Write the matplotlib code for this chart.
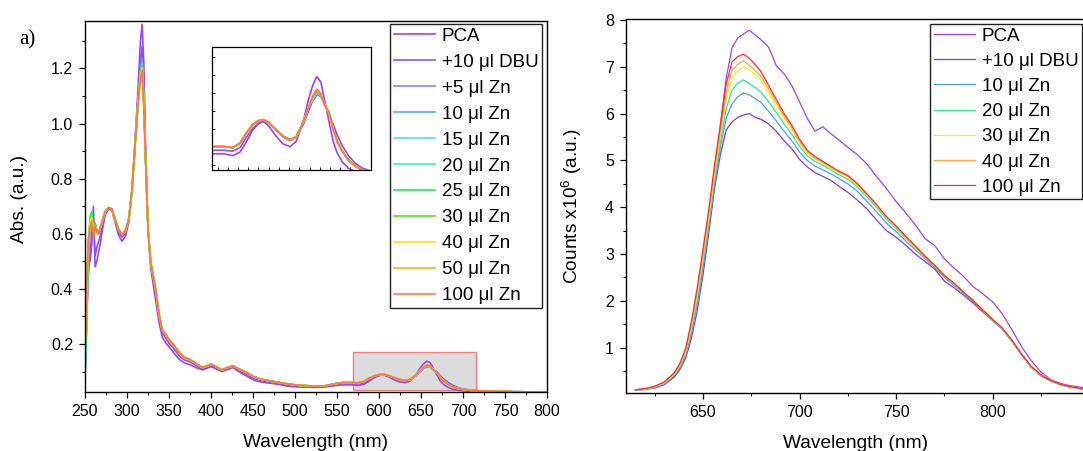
import matplotlib.pyplot as plt
import numpy as np
from matplotlib.patches import Rectangle
from matplotlib.ticker import MultipleLocator

plt.rcParams['font.family'] = ['Liberation Sans', 'DejaVu Sans']
plt.rcParams['mathtext.fontset'] = 'custom'
plt.rcParams['mathtext.rm'] = 'Liberation Sans'

# ---------------- absorption (left) ----------------
abs_wl = [250, 252, 254, 256, 258, 260, 262, 264, 266, 268,
          270, 274, 278, 282, 286, 290, 294, 298, 302, 306,
          310, 313, 316, 318, 320, 322, 325, 328, 331, 334,
          338, 342, 346, 350, 356, 362, 368, 376, 384, 390,
          395, 400, 406, 413, 420, 426, 433, 440, 446, 452,
          460, 470, 480, 492, 505, 520, 535, 548, 556, 566,
          575, 582, 588, 594, 600, 605, 610, 617, 624, 631,
          637, 644, 649, 653, 657, 661, 665, 669, 673, 677,
          682, 688, 695, 702, 712, 730, 760, 800]

abs_pca = [0.12, 0.32, 0.45, 0.52, 0.60, 0.66, 0.52, 0.55, 0.57, 0.59,
           0.62, 0.67, 0.69, 0.685, 0.64, 0.595, 0.573, 0.59, 0.64, 0.76,
           0.96, 1.12, 1.30, 1.36, 1.22, 0.93, 0.62, 0.48, 0.42, 0.36,
           0.28, 0.225, 0.205, 0.19, 0.167, 0.145, 0.132, 0.124, 0.112, 0.106,
           0.112, 0.118, 0.11, 0.10, 0.108, 0.115, 0.10, 0.088, 0.078, 0.068,
           0.062, 0.058, 0.054, 0.047, 0.044, 0.043, 0.044, 0.049, 0.052, 0.052,
           0.050, 0.054, 0.065, 0.078, 0.086, 0.088, 0.083, 0.072, 0.063, 0.060,
           0.066, 0.089, 0.113, 0.128, 0.138, 0.132, 0.110, 0.088, 0.066, 0.053,
           0.043, 0.036, 0.032, 0.030, 0.028, 0.027, 0.026, 0.025]

abs_dbu = [0.10, 0.28, 0.52, 0.50, 0.56, 0.70, 0.48, 0.50, 0.53, 0.56,
           0.60, 0.67, 0.69, 0.688, 0.645, 0.605, 0.588, 0.60, 0.65, 0.76,
           0.95, 1.09, 1.23, 1.28, 1.14, 0.90, 0.62, 0.50, 0.44, 0.39,
           0.30, 0.24, 0.222, 0.203, 0.182, 0.158, 0.143, 0.134, 0.119, 0.11,
           0.116, 0.122, 0.114, 0.103, 0.111, 0.118, 0.105, 0.094, 0.084, 0.074,
           0.067, 0.062, 0.057, 0.051, 0.047, 0.045, 0.045, 0.052, 0.056, 0.056,
           0.055, 0.059, 0.070, 0.080, 0.086, 0.088, 0.086, 0.079, 0.072, 0.068,
           0.071, 0.085, 0.100, 0.111, 0.118, 0.116, 0.107, 0.097, 0.085, 0.073,
           0.061, 0.050, 0.041, 0.036, 0.032, 0.029, 0.027, 0.026]

# common trace of the Zn additions
abs_zn = [0.16, 0.35, 0.55, 0.62, 0.64, 0.60, 0.63, 0.61, 0.60, 0.62,
          0.64, 0.68, 0.695, 0.69, 0.65, 0.615, 0.598, 0.61, 0.65, 0.76,
          0.94, 1.07, 1.17, 1.20, 1.08, 0.88, 0.62, 0.50, 0.45, 0.40,
          0.31, 0.25, 0.235, 0.215, 0.195, 0.17, 0.152, 0.142, 0.125, 0.115,
          0.12, 0.127, 0.118, 0.106, 0.115, 0.121, 0.11, 0.10, 0.09, 0.08,
          0.072, 0.066, 0.061, 0.055, 0.05, 0.048, 0.048, 0.056, 0.060, 0.060,
          0.059, 0.064, 0.075, 0.084, 0.089, 0.090, 0.087, 0.079, 0.071, 0.067,
          0.071, 0.088, 0.104, 0.116, 0.122, 0.118, 0.106, 0.098, 0.080, 0.066,
          0.055, 0.045, 0.038, 0.034, 0.031, 0.029, 0.027, 0.026]

# where the individual Zn traces separate
zn_var_wl = [250, 252, 254, 256, 258, 260, 262, 316, 318, 320, 653, 657, 661]
zn_labels = ['+5 μl Zn', '10 μl Zn', '15 μl Zn', '20 μl Zn', '25 μl Zn',
             '30 μl Zn', '40 μl Zn', '50 μl Zn', '100 μl Zn']
zn_var = [
    [0.07, 0.25, 0.50, 0.60, 0.63, 0.61, 0.62, 1.19, 1.235, 1.10, 0.111, 0.119, 0.116],
    [0.08, 0.27, 0.52, 0.62, 0.66, 0.62, 0.63, 1.19, 1.228, 1.10, 0.112, 0.120, 0.117],
    [0.10, 0.30, 0.54, 0.64, 0.67, 0.62, 0.63, 1.185, 1.22, 1.09, 0.113, 0.121, 0.117],
    [0.12, 0.32, 0.55, 0.65, 0.68, 0.62, 0.64, 1.18, 1.215, 1.09, 0.114, 0.121, 0.118],
    [0.14, 0.34, 0.56, 0.66, 0.68, 0.61, 0.64, 1.18, 1.21, 1.08, 0.115, 0.122, 0.118],
    [0.15, 0.36, 0.57, 0.65, 0.67, 0.61, 0.63, 1.175, 1.205, 1.08, 0.115, 0.122, 0.118],
    [0.17, 0.38, 0.57, 0.64, 0.66, 0.60, 0.63, 1.17, 1.20, 1.07, 0.116, 0.123, 0.119],
    [0.18, 0.40, 0.58, 0.63, 0.65, 0.60, 0.62, 1.165, 1.195, 1.07, 0.116, 0.123, 0.119],
    [0.20, 0.42, 0.58, 0.62, 0.64, 0.58, 0.63, 1.16, 1.19, 1.06, 0.116, 0.124, 0.119],
]
abs_colors = ['#a040ff', '#8a4dff', '#7f86ff', '#5aa8ff', '#55d8ff', '#33f0d0',
              '#22e855', '#55e622', '#f0e818', '#ffa820', '#ff7a3a']

# ---------------- emission (right) ----------------
em_wl = [615, 620, 625, 630, 635, 638, 641, 644, 647, 650,
         653, 656, 659, 662, 665, 668, 671, 674, 677, 680,
         684, 688, 692, 696, 700, 704, 708, 712, 716, 720,
         725, 730, 735, 740, 745, 750, 755, 760, 765, 770,
         775, 780, 785, 790, 795, 800, 805, 810, 815, 820,
         825, 830, 835, 840, 847]

em_pca = [0.10, 0.12, 0.16, 0.24, 0.41, 0.59, 0.86, 1.36, 2.00, 2.80,
          3.72, 4.72, 5.75, 6.75, 7.40, 7.62, 7.70, 7.78, 7.68, 7.58,
          7.42, 7.02, 6.85, 6.60, 6.25, 5.90, 5.62, 5.72, 5.58, 5.45,
          5.28, 5.12, 4.92, 4.65, 4.40, 4.12, 3.88, 3.62, 3.33, 3.18,
          2.90, 2.70, 2.52, 2.30, 2.15, 1.98, 1.72, 1.38, 1.02, 0.72,
          0.48, 0.32, 0.24, 0.19, 0.15]
em_dbu = [0.09, 0.11, 0.14, 0.21, 0.37, 0.53, 0.77, 1.20, 1.78, 2.55,
          3.45, 4.40, 5.12, 5.65, 5.82, 5.92, 5.97, 6.00, 5.92, 5.88,
          5.78, 5.62, 5.42, 5.25, 5.02, 4.86, 4.74, 4.66, 4.58, 4.46,
          4.32, 4.15, 3.96, 3.72, 3.50, 3.36, 3.19, 3.00, 2.84, 2.68,
          2.42, 2.28, 2.12, 1.95, 1.76, 1.58, 1.40, 1.14, 0.85, 0.58,
          0.40, 0.29, 0.21, 0.16, 0.12]
em_zn10 = [0.09, 0.11, 0.15, 0.23, 0.40, 0.57, 0.83, 1.30, 1.92, 2.70,
           3.58, 4.50, 5.27, 5.90, 6.20, 6.36, 6.44, 6.40, 6.32, 6.24,
           6.05, 5.84, 5.62, 5.42, 5.18, 5.00, 4.88, 4.80, 4.72, 4.62,
           4.50, 4.34, 4.12, 3.90, 3.66, 3.48, 3.28, 3.09, 2.90, 2.71,
           2.50, 2.33, 2.16, 1.98, 1.78, 1.58, 1.40, 1.14, 0.85, 0.58,
           0.40, 0.29, 0.21, 0.16, 0.12]
em_zn20 = [0.10, 0.12, 0.16, 0.24, 0.42, 0.60, 0.87, 1.37, 2.03, 2.82,
           3.68, 4.60, 5.40, 6.10, 6.50, 6.65, 6.72, 6.64, 6.56, 6.46,
           6.25, 6.02, 5.78, 5.56, 5.30, 5.10, 4.98, 4.90, 4.80, 4.70,
           4.60, 4.43, 4.22, 3.99, 3.75, 3.55, 3.34, 3.14, 2.94, 2.74,
           2.53, 2.36, 2.18, 2.01, 1.79, 1.60, 1.41, 1.15, 0.86, 0.59,
           0.41, 0.29, 0.21, 0.16, 0.12]
em_zn30 = [0.10, 0.12, 0.17, 0.25, 0.43, 0.62, 0.91, 1.43, 2.12, 2.92,
           3.78, 4.70, 5.52, 6.30, 6.75, 6.92, 7.00, 6.94, 6.84, 6.72,
           6.45, 6.18, 5.90, 5.66, 5.38, 5.16, 5.03, 4.94, 4.84, 4.74,
           4.64, 4.47, 4.26, 4.03, 3.79, 3.58, 3.37, 3.15, 2.95, 2.75,
           2.54, 2.37, 2.18, 2.01, 1.80, 1.60, 1.42, 1.16, 0.86, 0.60,
           0.41, 0.30, 0.21, 0.16, 0.12]
em_zn40 = [0.10, 0.12, 0.17, 0.26, 0.45, 0.64, 0.94, 1.49, 2.20, 3.00,
           3.86, 4.80, 5.62, 6.45, 6.92, 7.05, 7.13, 7.03, 6.92, 6.80,
           6.52, 6.24, 5.95, 5.70, 5.41, 5.19, 5.05, 4.96, 4.86, 4.76,
           4.66, 4.49, 4.27, 4.04, 3.80, 3.59, 3.37, 3.16, 2.96, 2.75,
           2.55, 2.37, 2.19, 2.00, 1.81, 1.61, 1.41, 1.15, 0.87, 0.59,
           0.41, 0.30, 0.22, 0.16, 0.12]
em_zn100 = [0.10, 0.13, 0.18, 0.27, 0.46, 0.66, 0.98, 1.55, 2.28, 3.10,
            3.95, 4.90, 5.75, 6.62, 7.10, 7.22, 7.27, 7.18, 7.05, 6.90,
            6.60, 6.30, 6.00, 5.75, 5.45, 5.22, 5.08, 4.98, 4.88, 4.78,
            4.68, 4.50, 4.28, 4.05, 3.80, 3.60, 3.38, 3.17, 2.95, 2.76,
            2.54, 2.38, 2.18, 2.00, 1.80, 1.60, 1.42, 1.16, 0.86, 0.60,
            0.42, 0.30, 0.22, 0.17, 0.12]
em_labels = ['PCA', '+10 μl DBU', '10 μl Zn', '20 μl Zn', '30 μl Zn', '40 μl Zn', '100 μl Zn']
em_colors = ['#a040ff', '#7a3cf0', '#4a9cff', '#2ee890', '#f0f020', '#ffa640', '#ff2a2a']

W, H = 1083, 451
fig = plt.figure(figsize=(W / 100, H / 100), dpi=100)


def px_axes(x0, y0, x1, y1):
    return fig.add_axes([x0 / W, 1 - y1 / H, (x1 - x0) / W, (y1 - y0) / H])


def style(ax):
    ax.tick_params(which='major', direction='out', length=4.5, width=0.9, labelsize=11.5, pad=4)
    ax.tick_params(which='minor', direction='out', length=2.5, width=0.8)
    for s in ax.spines.values():
        s.set_linewidth(1.0)


def add_legend(ax, x0, y0, spacing):
    leg = ax.legend(loc='upper left', bbox_to_anchor=(x0 / W, 1 - y0 / H),
                    bbox_transform=fig.transFigure, fontsize=13.5, frameon=True,
                    fancybox=False, edgecolor='#222222', framealpha=1, borderpad=0.2,
                    handlelength=2.2, handletextpad=0.35, labelspacing=spacing,
                    borderaxespad=0)
    leg.get_frame().set_linewidth(1.0)


# ---- left panel
ax1 = px_axes(85, 21, 547, 392)
wl = np.array(abs_wl)
zn_idx = [abs_wl.index(w) for w in zn_var_wl]
traces = [(abs_pca, 'PCA'), (abs_dbu, '+10 μl DBU')]
for vals, lab in zip(zn_var, zn_labels):
    y = np.array(abs_zn, dtype=float)
    y[zn_idx] = vals
    traces.append((y, lab))

ax1.add_patch(Rectangle((568.5, 0.033), 146.5, 0.138, facecolor='#dcdcdc',
                        edgecolor='#f08080', linewidth=1.0, zorder=1))
for (y, lab), c in zip(traces, abs_colors):
    ax1.plot(wl, y, color=c, lw=1.2, label=lab, zorder=2)

ax1.set_xlim(250, 800)
ax1.set_ylim(0.026, 1.372)
ax1.xaxis.set_major_locator(MultipleLocator(50))
ax1.xaxis.set_minor_locator(MultipleLocator(25))
ax1.yaxis.set_minor_locator(MultipleLocator(0.1))
ax1.set_yticks([0.2, 0.4, 0.6, 0.8, 1.0, 1.2])
ax1.set_yticklabels(['0.2', '0.4', '0.6', '0.8', '1.0', '1.2'])
style(ax1)
ax1.set_xlabel('Wavelength (nm)', fontsize=13.8)
ax1.set_ylabel('Abs. (a.u.)', fontsize=13.8)
ax1.xaxis.set_label_coords(0.5, -0.112)
ax1.yaxis.set_label_coords(-0.123, 0.52)
add_legend(ax1, 390, 24, 0.47)

fig.text(19 / W, 1 - 44 / H, 'a)', fontsize=15, family='Liberation Serif', va='baseline')

# ---- inset
axi = px_axes(212.5, 47, 371.4, 170)
for (y, lab), c in zip(traces, abs_colors):
    axi.plot(wl, y, color=c, lw=1.2)
axi.set_xlim(555, 710.5)
axi.set_ylim(0.034, 0.171)
axi.xaxis.set_major_locator(MultipleLocator(50))
axi.xaxis.set_minor_locator(MultipleLocator(10))
axi.yaxis.set_major_locator(MultipleLocator(0.04))
axi.yaxis.set_minor_locator(MultipleLocator(0.02))
axi.tick_params(which='both', direction='in', length=2, width=0.6,
                labelbottom=False, labelleft=False)
for s in axi.spines.values():
    s.set_linewidth(0.9)

# ---- right panel
ax2 = px_axes(625.7, 19, 1086, 392.7)
em_series = [em_pca, em_dbu, em_zn10, em_zn20, em_zn30, em_zn40, em_zn100]
for vals, lab, c in zip(em_series, em_labels, em_colors):
    ax2.plot(em_wl, vals, color=c, lw=0.9, label=lab)
ax2.set_xlim(610, 848.3)
ax2.set_ylim(0.04, 8.02)
ax2.xaxis.set_major_locator(MultipleLocator(50))
ax2.xaxis.set_minor_locator(MultipleLocator(25))
ax2.set_yticks(range(1, 9))
ax2.yaxis.set_minor_locator(MultipleLocator(0.5))
style(ax2)
ax2.set_xlabel('Wavelength (nm)', fontsize=13.8)
ax2.set_ylabel('Counts x10$^6$ (a.u.)', fontsize=13.8)
ax2.xaxis.set_label_coords(0.5, -0.112)
ax2.yaxis.set_label_coords(-0.09, 0.5)
add_legend(ax2, 930, 23.7, 0.43)

fig.savefig('out.png', dpi=100)
